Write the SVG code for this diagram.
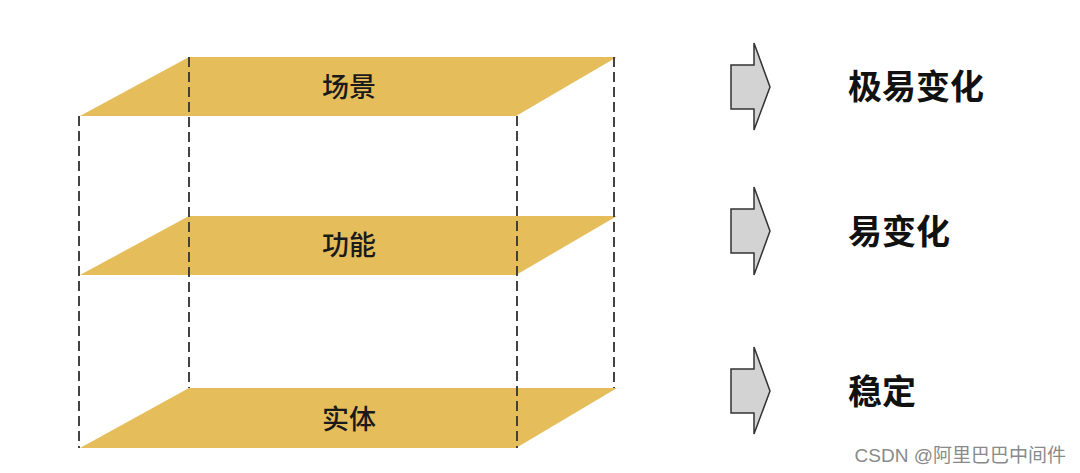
<svg xmlns="http://www.w3.org/2000/svg" width="1080" height="473" viewBox="0 0 1080 473">
<defs>
<style>
.plane{fill:#E5BD5B;}
.dash{stroke:#3a3a3a;stroke-width:1.9;stroke-dasharray:10 5;fill:none;}
.lbl{font-family:"Noto Sans CJK SC","Noto Sans",sans-serif;font-size:27px;font-weight:500;fill:#1a1a1a;text-anchor:middle;}
.arrow{fill:#D3D3D3;stroke:#333;stroke-width:1.5;stroke-linejoin:miter;}
.rt{font-family:"Noto Sans CJK SC","Noto Sans",sans-serif;font-size:34px;font-weight:bold;fill:#111;}
.wm{font-family:"Liberation Sans","Noto Sans CJK SC",sans-serif;font-size:19px;fill:#8a8a8a;text-anchor:end;}
</style>
</defs>
<rect width="1080" height="473" fill="#fff"/>
<g id="plane-scene">
<polygon class="plane" points="80,116 189,57 617,57 516,116"/>
<text class="lbl" x="349" y="97">场景</text>
</g>
<g id="plane-function">
<polygon class="plane" points="80,275 189,216 617,216 516,275"/>
<text class="lbl" x="349" y="255">功能</text>
</g>
<g id="plane-entity">
<polygon class="plane" points="80,448 189,388 617,388 516,448"/>
<text class="lbl" x="349" y="429">实体</text>
</g>
<g id="connectors">
<line class="dash" x1="79" y1="116" x2="79" y2="448"/>
<line class="dash" x1="189" y1="57" x2="189" y2="388"/>
<line class="dash" x1="517" y1="116" x2="517" y2="448"/>
<line class="dash" x1="614" y1="57" x2="614" y2="388"/>
</g>
<g id="arrow-1">
<polygon class="arrow" points="731,65 754,65 754,43 770,87 754,130 754,109 731,109"/>
</g>
<g id="arrow-2">
<polygon class="arrow" points="731,209 754,209 754,187 770,231 754,275 754,253 731,253"/>
</g>
<g id="arrow-3">
<polygon class="arrow" points="731,369 754,369 754,347 770,391 754,434 754,413 731,413"/>
</g>
<g id="text-1"><text class="rt" x="848" y="99">极易变化</text></g>
<g id="text-2"><text class="rt" x="848" y="244">易变化</text></g>
<g id="text-3"><text class="rt" x="848" y="404">稳定</text></g>
<text class="wm" x="1066" y="462">CSDN @阿里巴巴中间件</text>
</svg>
